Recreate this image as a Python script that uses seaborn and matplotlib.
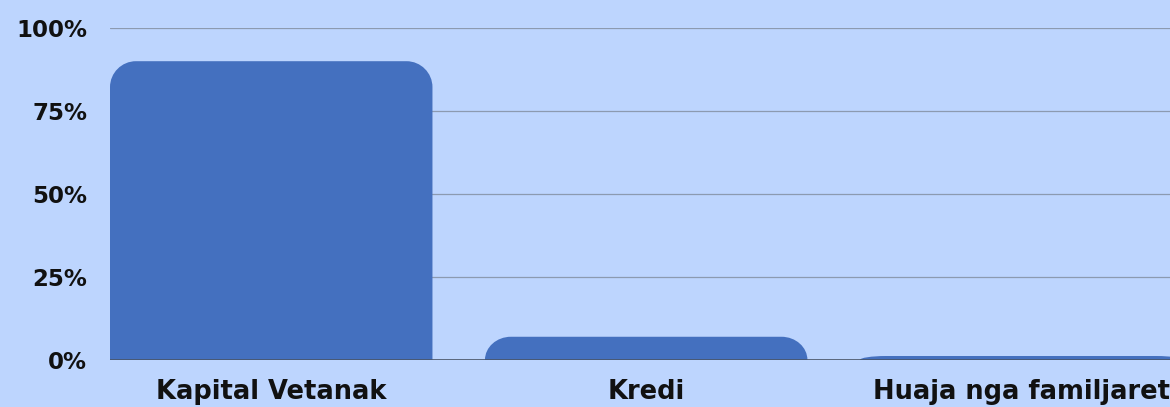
import matplotlib
matplotlib.use("Agg")
import matplotlib.pyplot as plt
from matplotlib.path import Path
from matplotlib.patches import PathPatch
import seaborn as sns
import pandas as pd

categories = ["Kapital Vetanak", "Kredi", "Huaja nga familjaret"]
shares = [90, 7, 1.2]
yticks = [0, 25, 50, 75, 100]
ytick_labels = ["0%", "25%", "50%", "75%", "100%"]

bg = "#BDD5FE"
bar_color = "#4470BF"

sns.set_theme(style="white")
plt.rcParams["font.family"] = ["DejaVu Sans"]
plt.rcParams["font.weight"] = "bold"

df = pd.DataFrame({"cat": categories, "share": shares})

fig = plt.figure(figsize=(11.7, 4.07), dpi=100)
fig.patch.set_facecolor(bg)
ax = fig.add_axes([110 / 1170, 47 / 407, 1060 / 1170, 332 / 407])
ax.set_facecolor(bg)

sns.barplot(data=df, x="cat", y="share", color=bar_color, width=0.86,
            saturation=1, ax=ax, zorder=3)

ax.set_ylim(0, 100)
ax.set_xlim(-0.43, 2.397)

# px per data unit, to turn a pixel radius into data units
bbox = ax.get_position()
ax_w = bbox.width * fig.get_figwidth() * fig.dpi
ax_h = bbox.height * fig.get_figheight() * fig.dpi
px_x = ax_w / (ax.get_xlim()[1] - ax.get_xlim()[0])
px_y = ax_h / (ax.get_ylim()[1] - ax.get_ylim()[0])
radius = 26

for p in list(ax.patches):
    x0, y0 = p.get_x(), p.get_y()
    w, h = p.get_width(), p.get_height()
    p.remove()
    rx = radius / px_x
    ry = min(radius / px_y, h)
    k = 0.5523
    verts = [
        (x0, y0),
        (x0, y0 + h - ry),
        (x0, y0 + h - ry + k * ry), (x0 + rx - k * rx, y0 + h), (x0 + rx, y0 + h),
        (x0 + w - rx, y0 + h),
        (x0 + w - rx + k * rx, y0 + h), (x0 + w, y0 + h - ry + k * ry), (x0 + w, y0 + h - ry),
        (x0 + w, y0),
        (x0, y0),
    ]
    codes = [Path.MOVETO, Path.LINETO,
             Path.CURVE4, Path.CURVE4, Path.CURVE4,
             Path.LINETO,
             Path.CURVE4, Path.CURVE4, Path.CURVE4,
             Path.LINETO, Path.CLOSEPOLY]
    ax.add_patch(PathPatch(Path(verts, codes), facecolor=bar_color,
                           edgecolor="none", zorder=3, clip_on=True))

ax.set_yticks(yticks)
ax.set_yticklabels(ytick_labels)
ax.grid(axis="y", color="#8C9AB0", linewidth=0.9, zorder=0)
ax.axhline(0, color="#4A5568", linewidth=1.2, zorder=4)
for s in ax.spines.values():
    s.set_visible(False)

ax.set_xlabel("")
ax.set_ylabel("")
ax.tick_params(axis="y", length=0, pad=16.5, labelsize=16.5)
ax.tick_params(axis="x", length=0, pad=14, labelsize=18.5)
for lbl in ax.get_xticklabels() + ax.get_yticklabels():
    lbl.set_fontweight("bold")
    lbl.set_color("#111111")

fig.savefig("out.png", dpi=100, facecolor=bg)
